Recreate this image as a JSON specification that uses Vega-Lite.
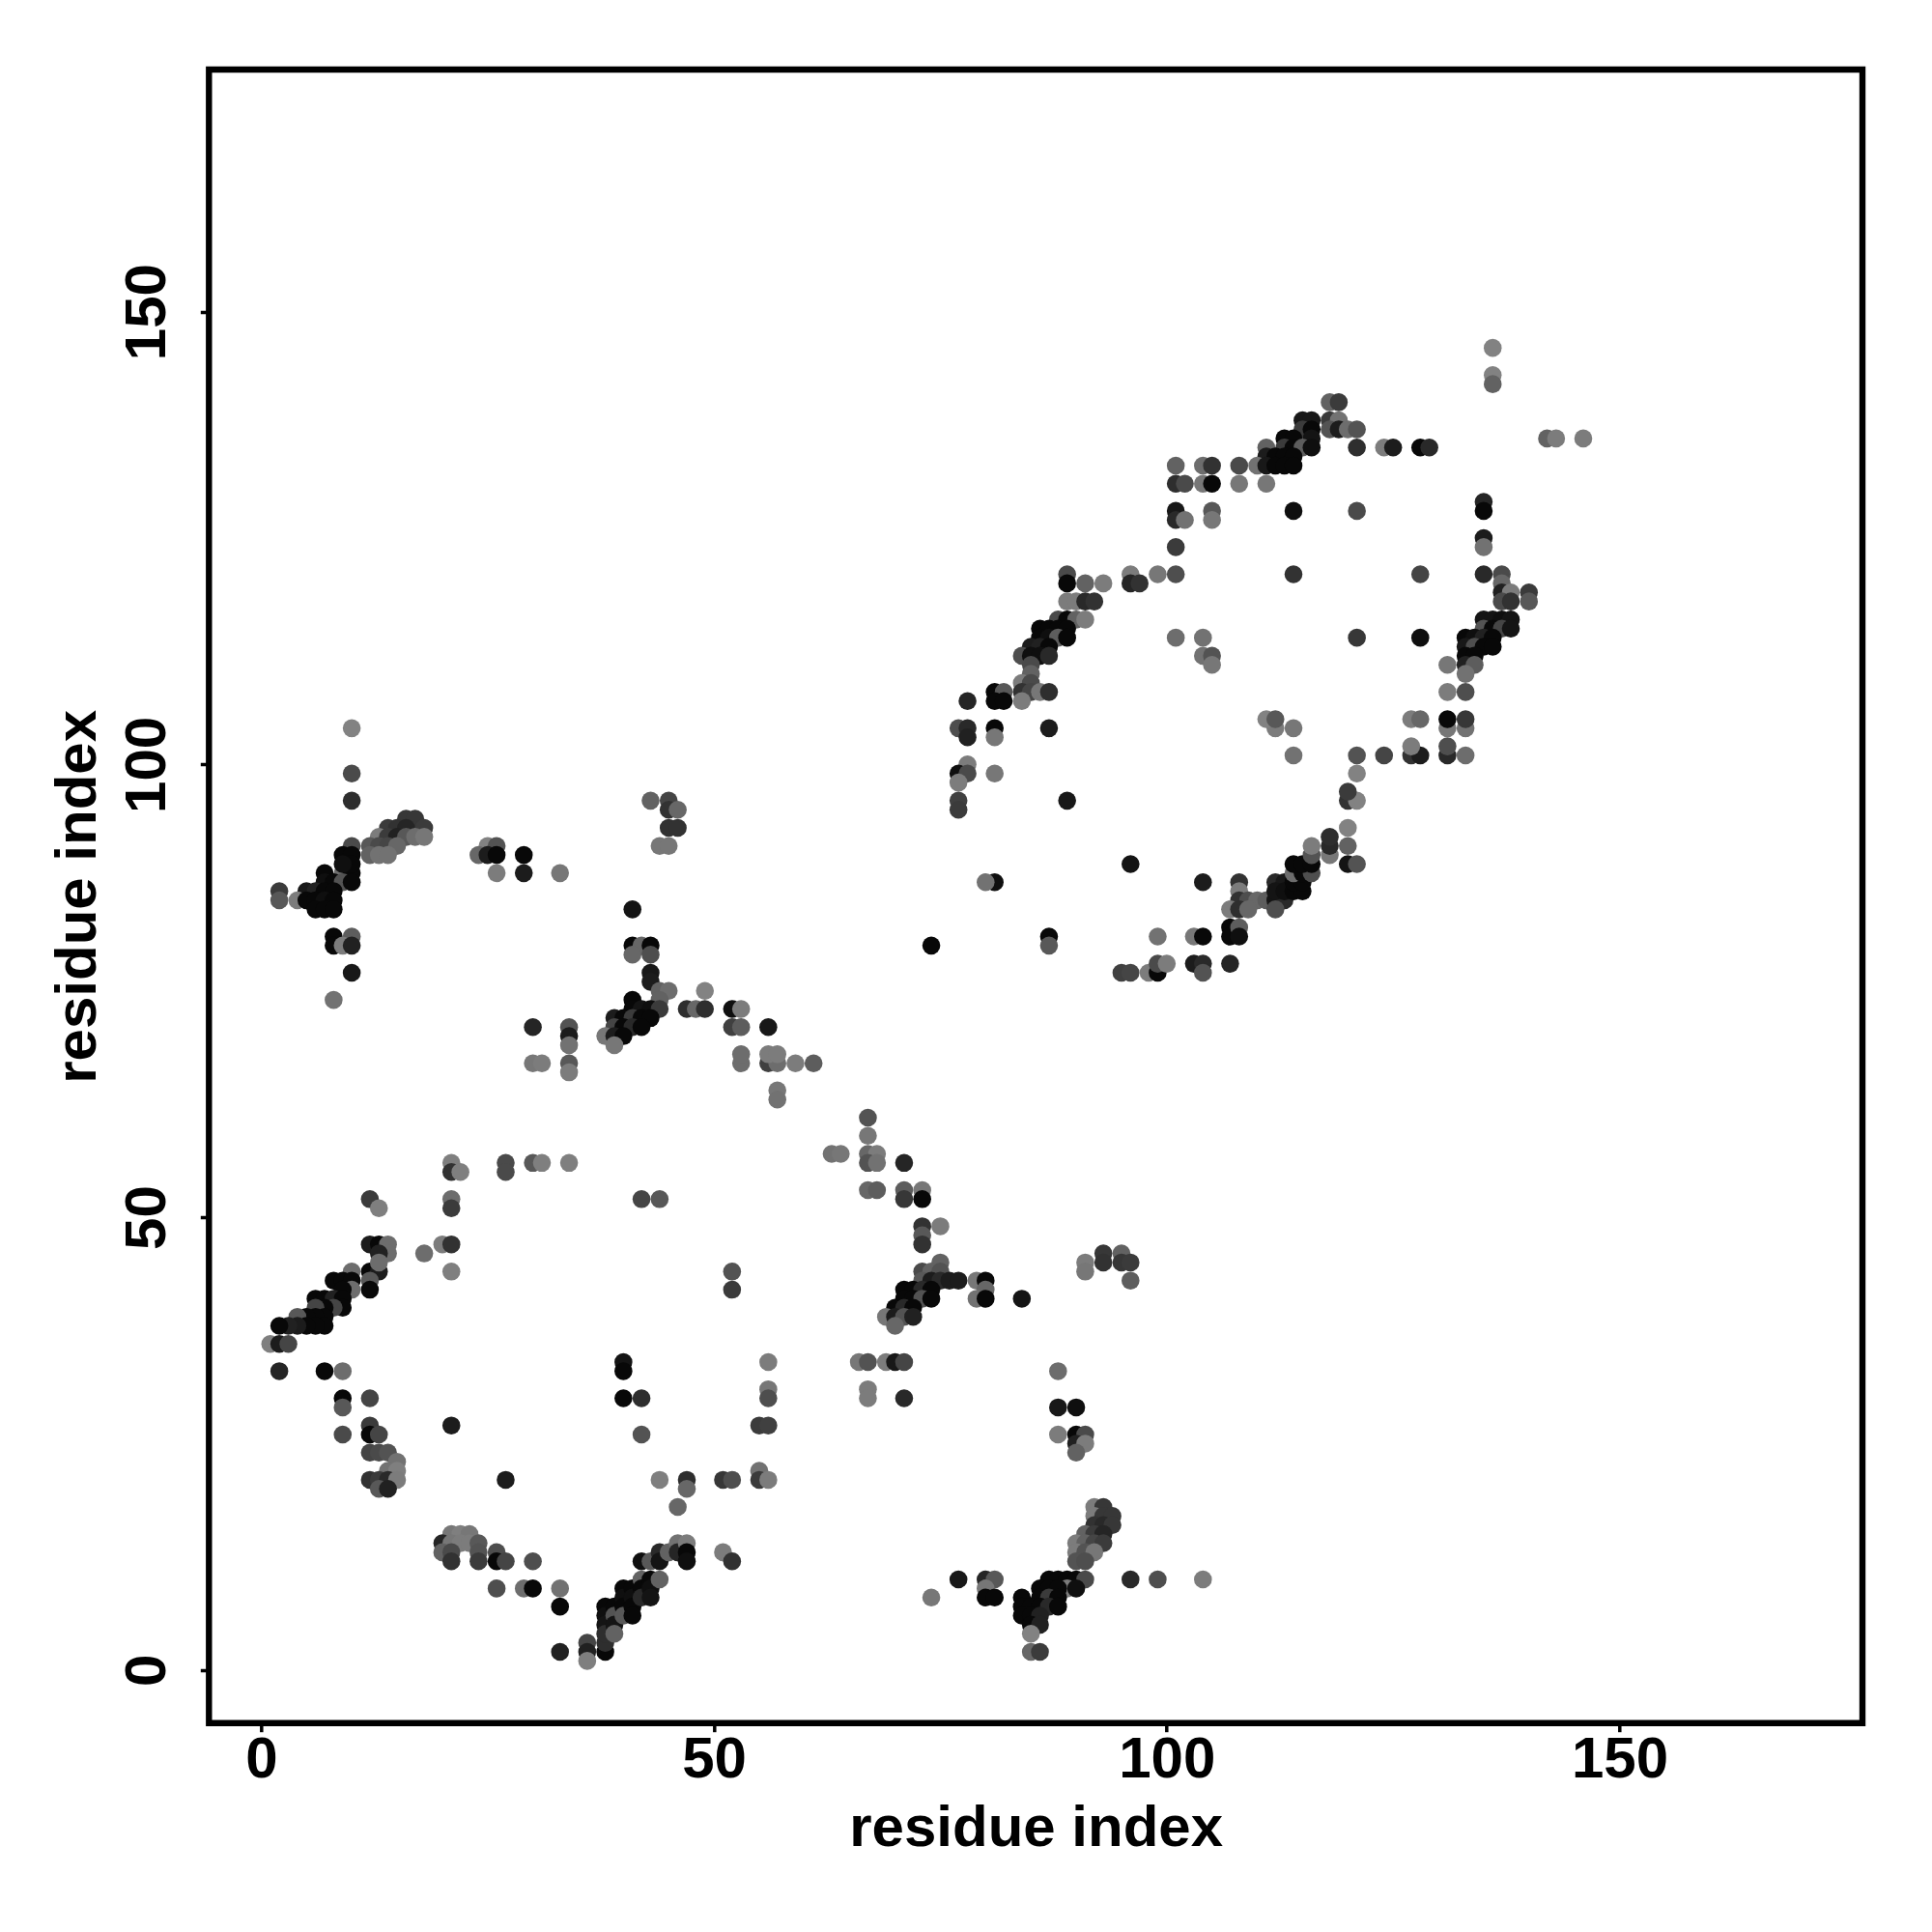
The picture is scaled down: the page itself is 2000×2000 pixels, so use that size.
{"$schema":"https://vega.github.io/schema/vega-lite/v6.json","width":1711.7,"height":1711.7,"autosize":{"type":"none"},"padding":{"left":216.3,"top":72,"right":72,"bottom":216.3},"background":"white","view":{"stroke":"black","strokeWidth":6.4,"fill":"white"},
"data":{"values":[
{"x":21,"y":56,"g":128},{"x":21,"y":55,"g":50},{"x":22,"y":55,"g":128},{"x":27,"y":56,"g":75},{"x":27,"y":55,"g":75},{"x":30,"y":56,"g":90},{"x":31,"y":56,"g":128},{"x":34,"y":56,"g":128},
{"x":12,"y":52,"g":60},{"x":13,"y":51,"g":128},{"x":21,"y":52,"g":110},{"x":21,"y":51,"g":60},{"x":42,"y":52,"g":70},{"x":44,"y":52,"g":90},
{"x":12,"y":47,"g":25},{"x":13,"y":47,"g":5},{"x":14,"y":47,"g":110},{"x":14,"y":46,"g":110},{"x":13,"y":46,"g":30},{"x":18,"y":46,"g":110},{"x":20,"y":47,"g":125},{"x":21,"y":47,"g":50},{"x":21,"y":44,"g":128},
{"x":12,"y":44,"g":5},{"x":13,"y":44,"g":25},{"x":13,"y":45,"g":110},{"x":12,"y":43,"g":90},{"x":12,"y":42,"g":5},{"x":10,"y":44,"g":110},{"x":8,"y":43,"g":5},{"x":9,"y":43,"g":5},{"x":10,"y":43,"g":5},{"x":10,"y":42,"g":110},{"x":9,"y":42,"g":5},
{"x":6,"y":41,"g":5},{"x":7,"y":41,"g":5},{"x":8,"y":41,"g":30},{"x":9,"y":41,"g":5},{"x":9,"y":40,"g":5},{"x":8,"y":40,"g":70},{"x":7,"y":40,"g":5},{"x":6,"y":40,"g":70},{"x":7,"y":39,"g":5},{"x":6,"y":39,"g":5},{"x":5,"y":39,"g":5},{"x":4,"y":39,"g":90},
{"x":7,"y":38,"g":5},{"x":6,"y":38,"g":5},{"x":5,"y":38,"g":5},{"x":4,"y":38,"g":25},{"x":3,"y":38,"g":30},{"x":2,"y":38,"g":5},{"x":1,"y":36,"g":128},{"x":2,"y":36,"g":25},{"x":3,"y":36,"g":70},
{"x":2,"y":33,"g":35},{"x":7,"y":33,"g":5},{"x":9,"y":33,"g":110},{"x":9,"y":30,"g":5},{"x":9,"y":29,"g":90},{"x":12,"y":30,"g":70},{"x":9,"y":26,"g":75},{"x":12,"y":27,"g":60},{"x":12,"y":26,"g":5},{"x":13,"y":26,"g":70},{"x":12,"y":24,"g":70},{"x":13,"y":24,"g":75},{"x":14,"y":24,"g":85},{"x":15,"y":23,"g":115},{"x":14,"y":22,"g":115},{"x":15,"y":22,"g":128},{"x":12,"y":21,"g":50},{"x":13,"y":21,"g":60},{"x":14,"y":21,"g":40},{"x":15,"y":21,"g":125},{"x":13,"y":20,"g":90},{"x":14,"y":20,"g":30},
{"x":21,"y":27,"g":25},{"x":27,"y":21,"g":25},{"x":40,"y":34,"g":15},{"x":40,"y":33,"g":5},{"x":40,"y":30,"g":5},{"x":42,"y":30,"g":45},{"x":42,"y":26,"g":85},{"x":44,"y":21,"g":128},{"x":47,"y":21,"g":45},{"x":47,"y":20,"g":105},{"x":46,"y":18,"g":105},
{"x":21,"y":15,"g":120},{"x":22,"y":15,"g":128},{"x":23,"y":15,"g":120},{"x":20,"y":14,"g":35},{"x":21,"y":14,"g":120},{"x":22,"y":14,"g":125},{"x":23,"y":14,"g":125},{"x":24,"y":14,"g":90},{"x":20,"y":13,"g":100},{"x":21,"y":13,"g":75},{"x":24,"y":13,"g":85},{"x":26,"y":13,"g":80},{"x":21,"y":12,"g":50},{"x":24,"y":12,"g":60},{"x":26,"y":12,"g":5},{"x":27,"y":12,"g":70},{"x":30,"y":12,"g":80},
{"x":26,"y":9,"g":80},{"x":29,"y":9,"g":110},{"x":30,"y":9,"g":5},{"x":33,"y":9,"g":115},{"x":33,"y":7,"g":5},{"x":33,"y":2,"g":30},{"x":36,"y":3,"g":70},{"x":36,"y":2,"g":30},{"x":36,"y":1,"g":128},{"x":38,"y":2,"g":5},{"x":38,"y":3,"g":45},
{"x":38,"y":7,"g":5},{"x":38,"y":6,"g":10},{"x":38,"y":5,"g":15},{"x":38,"y":4,"g":45},{"x":39,"y":7,"g":5},{"x":39,"y":6,"g":85},{"x":39,"y":5,"g":15},{"x":39,"y":4,"g":100},{"x":40,"y":9,"g":5},{"x":40,"y":8,"g":10},{"x":40,"y":7,"g":5},{"x":40,"y":6,"g":90},{"x":41,"y":9,"g":5},{"x":41,"y":8,"g":10},{"x":41,"y":7,"g":5},{"x":41,"y":6,"g":5},{"x":42,"y":12,"g":10},{"x":42,"y":10,"g":100},{"x":42,"y":9,"g":5},{"x":42,"y":8,"g":40},{"x":43,"y":12,"g":90},{"x":43,"y":10,"g":5},{"x":43,"y":9,"g":10},{"x":43,"y":8,"g":15},{"x":44,"y":13,"g":40},{"x":44,"y":12,"g":15},{"x":44,"y":10,"g":100},{"x":45,"y":13,"g":100},{"x":46,"y":14,"g":115},{"x":46,"y":13,"g":35},{"x":47,"y":14,"g":125},{"x":47,"y":13,"g":5},{"x":47,"y":12,"g":10},
{"x":51,"y":21,"g":55},{"x":52,"y":21,"g":80},{"x":55,"y":22,"g":115},{"x":55,"y":21,"g":60},{"x":56,"y":21,"g":125},{"x":51,"y":13,"g":125},{"x":52,"y":12,"g":50},
{"x":52,"y":44,"g":85},{"x":52,"y":42,"g":60},{"x":57,"y":64,"g":120},{"x":57,"y":63,"g":115},{"x":67,"y":61,"g":85},{"x":67,"y":59,"g":120},{"x":63,"y":57,"g":115},{"x":64,"y":57,"g":120},{"x":67,"y":57,"g":105},{"x":68,"y":57,"g":125},{"x":67,"y":56,"g":85},{"x":68,"y":56,"g":115},{"x":71,"y":56,"g":35},{"x":67,"y":53,"g":105},{"x":68,"y":53,"g":95},{"x":71,"y":53,"g":95},{"x":73,"y":53,"g":120},{"x":71,"y":52,"g":55},{"x":73,"y":52,"g":5},{"x":73,"y":49,"g":50},{"x":75,"y":49,"g":125},{"x":73,"y":48,"g":90},{"x":73,"y":47,"g":50},
{"x":75,"y":45,"g":100},{"x":73,"y":44,"g":75},{"x":74,"y":44,"g":100},{"x":75,"y":44,"g":85},{"x":73,"y":43,"g":90},{"x":74,"y":43,"g":25},{"x":75,"y":43,"g":40},{"x":76,"y":43,"g":25},{"x":77,"y":43,"g":25},{"x":79,"y":43,"g":120},{"x":80,"y":43,"g":5},{"x":71,"y":42,"g":5},{"x":72,"y":42,"g":5},{"x":73,"y":42,"g":40},{"x":74,"y":42,"g":5},{"x":80,"y":42,"g":105},{"x":71,"y":41,"g":5},{"x":72,"y":41,"g":5},{"x":73,"y":41,"g":85},{"x":74,"y":41,"g":5},{"x":79,"y":41,"g":115},{"x":80,"y":41,"g":5},{"x":84,"y":41,"g":15},{"x":70,"y":40,"g":5},{"x":71,"y":40,"g":40},{"x":72,"y":40,"g":5},{"x":69,"y":39,"g":120},{"x":70,"y":39,"g":25},{"x":71,"y":39,"g":85},{"x":72,"y":39,"g":30},{"x":70,"y":38,"g":105},
{"x":91,"y":45,"g":125},{"x":91,"y":44,"g":120},{"x":93,"y":46,"g":55},{"x":93,"y":45,"g":50},{"x":95,"y":46,"g":100},{"x":95,"y":45,"g":55},{"x":96,"y":45,"g":60},{"x":96,"y":43,"g":95},
{"x":56,"y":34,"g":125},{"x":66,"y":34,"g":120},{"x":67,"y":34,"g":85},{"x":69,"y":34,"g":125},{"x":70,"y":34,"g":20},{"x":71,"y":34,"g":70},{"x":88,"y":33,"g":110},{"x":56,"y":31,"g":120},{"x":67,"y":31,"g":125},{"x":56,"y":30,"g":80},{"x":67,"y":30,"g":125},{"x":71,"y":30,"g":40},{"x":88,"y":29,"g":20},{"x":90,"y":29,"g":10},{"x":55,"y":27,"g":60},{"x":56,"y":27,"g":65},{"x":88,"y":26,"g":125},{"x":90,"y":26,"g":5},{"x":91,"y":26,"g":75},{"x":90,"y":25,"g":30},{"x":91,"y":25,"g":125},{"x":90,"y":24,"g":100},
{"x":77,"y":10,"g":20},{"x":80,"y":10,"g":35},{"x":81,"y":10,"g":90},{"x":87,"y":10,"g":5},{"x":88,"y":10,"g":5},{"x":89,"y":10,"g":5},{"x":90,"y":10,"g":5},{"x":91,"y":10,"g":75},{"x":96,"y":10,"g":40},{"x":99,"y":10,"g":80},{"x":104,"y":10,"g":125},{"x":80,"y":9,"g":120},{"x":89,"y":9,"g":125},{"x":90,"y":9,"g":10},{"x":86,"y":9,"g":5},{"x":87,"y":9,"g":5},{"x":88,"y":9,"g":5},{"x":74,"y":8,"g":120},{"x":80,"y":8,"g":5},{"x":81,"y":8,"g":5},{"x":84,"y":8,"g":5},{"x":86,"y":8,"g":5},{"x":87,"y":8,"g":60},{"x":88,"y":8,"g":5},{"x":84,"y":7,"g":5},{"x":85,"y":7,"g":5},{"x":86,"y":7,"g":5},{"x":87,"y":7,"g":40},{"x":88,"y":7,"g":5},{"x":84,"y":6,"g":5},{"x":85,"y":6,"g":5},{"x":86,"y":6,"g":30},{"x":85,"y":5,"g":5},{"x":86,"y":5,"g":30},{"x":85,"y":4,"g":130},{"x":85,"y":2,"g":105},{"x":86,"y":2,"g":60},
{"x":92,"y":18,"g":125},{"x":93,"y":18,"g":55},{"x":92,"y":17,"g":125},{"x":93,"y":17,"g":55},{"x":94,"y":17,"g":55},{"x":92,"y":16,"g":50},{"x":93,"y":16,"g":40},{"x":94,"y":16,"g":55},{"x":91,"y":15,"g":100},{"x":92,"y":15,"g":60},{"x":93,"y":15,"g":35},{"x":90,"y":14,"g":125},{"x":91,"y":14,"g":100},{"x":92,"y":14,"g":70},{"x":93,"y":14,"g":60},{"x":90,"y":13,"g":125},{"x":91,"y":13,"g":85},{"x":92,"y":13,"g":120},{"x":90,"y":12,"g":85},{"x":91,"y":12,"g":80},
{"x":10,"y":104,"g":130},{"x":10,"y":99,"g":75},{"x":10,"y":96,"g":45},{"x":10,"y":91,"g":75},{"x":9,"y":90,"g":5},{"x":10,"y":90,"g":5},{"x":7,"y":88,"g":5},{"x":9,"y":88,"g":110},{"x":10,"y":88,"g":5},{"x":10,"y":89,"g":5},{"x":9,"y":89,"g":10},{"x":7,"y":87,"g":10},{"x":8,"y":87,"g":5},{"x":9,"y":87,"g":85},{"x":10,"y":87,"g":5},{"x":2,"y":86,"g":60},{"x":5,"y":86,"g":20},{"x":6,"y":86,"g":30},{"x":7,"y":86,"g":5},{"x":8,"y":86,"g":5},{"x":2,"y":85,"g":90},{"x":4,"y":85,"g":125},{"x":5,"y":85,"g":5},{"x":6,"y":85,"g":5},{"x":7,"y":85,"g":10},{"x":8,"y":85,"g":5},{"x":6,"y":84,"g":5},{"x":7,"y":84,"g":5},{"x":8,"y":84,"g":5},
{"x":8,"y":81,"g":5},{"x":10,"y":81,"g":95},{"x":8,"y":80,"g":5},{"x":9,"y":80,"g":125},{"x":10,"y":80,"g":30},{"x":10,"y":77,"g":20},{"x":8,"y":74,"g":115},
{"x":16,"y":94,"g":55},{"x":17,"y":94,"g":55},{"x":14,"y":93,"g":60},{"x":15,"y":93,"g":50},{"x":16,"y":93,"g":35},{"x":18,"y":93,"g":60},{"x":13,"y":92,"g":125},{"x":14,"y":92,"g":60},{"x":15,"y":92,"g":30},{"x":16,"y":92,"g":90},{"x":17,"y":92,"g":110},{"x":18,"y":92,"g":120},{"x":12,"y":91,"g":90},{"x":13,"y":91,"g":75},{"x":14,"y":91,"g":70},{"x":15,"y":91,"g":105},{"x":12,"y":90,"g":100},{"x":13,"y":90,"g":115},{"x":14,"y":90,"g":115},
{"x":43,"y":96,"g":100},{"x":45,"y":96,"g":70},{"x":45,"y":95,"g":50},{"x":46,"y":95,"g":105},{"x":45,"y":93,"g":50},{"x":46,"y":93,"g":50},{"x":44,"y":91,"g":120},{"x":45,"y":91,"g":120},
{"x":25,"y":91,"g":130},{"x":26,"y":91,"g":85},{"x":24,"y":90,"g":105},{"x":25,"y":90,"g":25},{"x":26,"y":90,"g":5},{"x":29,"y":90,"g":5},{"x":26,"y":88,"g":125},{"x":29,"y":88,"g":25},{"x":33,"y":88,"g":120},
{"x":41,"y":84,"g":15},{"x":41,"y":80,"g":5},{"x":42,"y":80,"g":105},{"x":43,"y":80,"g":5},{"x":41,"y":79,"g":105},{"x":43,"y":79,"g":80},{"x":43,"y":77,"g":20},{"x":43,"y":76,"g":25},{"x":44,"y":75,"g":100},{"x":45,"y":75,"g":110},{"x":49,"y":75,"g":130},{"x":41,"y":74,"g":5},{"x":44,"y":74,"g":100},{"x":41,"y":73,"g":5},{"x":42,"y":73,"g":15},{"x":43,"y":73,"g":10},{"x":44,"y":73,"g":60},{"x":47,"y":73,"g":45},{"x":48,"y":73,"g":105},{"x":49,"y":73,"g":45},{"x":52,"y":73,"g":10},{"x":53,"y":73,"g":125},{"x":39,"y":72,"g":25},{"x":40,"y":72,"g":5},{"x":41,"y":72,"g":60},{"x":42,"y":72,"g":5},{"x":43,"y":72,"g":5},{"x":39,"y":71,"g":70},{"x":40,"y":71,"g":5},{"x":41,"y":71,"g":40},{"x":42,"y":71,"g":5},{"x":30,"y":71,"g":35},{"x":34,"y":71,"g":85},{"x":52,"y":71,"g":65},{"x":53,"y":71,"g":95},{"x":56,"y":71,"g":20},{"x":34,"y":70,"g":25},{"x":38,"y":70,"g":120},{"x":39,"y":70,"g":25},{"x":40,"y":70,"g":5},{"x":34,"y":69,"g":115},{"x":39,"y":69,"g":120},{"x":30,"y":67,"g":120},{"x":31,"y":67,"g":125},{"x":34,"y":67,"g":90},{"x":53,"y":67,"g":110},{"x":56,"y":67,"g":65},{"x":57,"y":67,"g":110},{"x":59,"y":67,"g":125},{"x":61,"y":67,"g":95},{"x":53,"y":68,"g":110},{"x":56,"y":68,"g":125},{"x":57,"y":68,"g":125},{"x":34,"y":66,"g":125},
{"x":74,"y":80,"g":5},{"x":81,"y":87,"g":10},{"x":80,"y":87,"g":115},{"x":87,"y":81,"g":5},{"x":87,"y":80,"g":90},{"x":96,"y":89,"g":15},{"x":99,"y":81,"g":115},{"x":103,"y":81,"g":120},{"x":104,"y":81,"g":5},{"x":107,"y":82,"g":5},{"x":107,"y":81,"g":5},{"x":108,"y":82,"g":95},{"x":108,"y":81,"g":10},{"x":104,"y":87,"g":25},{"x":108,"y":87,"g":50},{"x":108,"y":86,"g":125},{"x":108,"y":85,"g":50},{"x":109,"y":85,"g":80},{"x":110,"y":85,"g":105},{"x":111,"y":85,"g":95},{"x":112,"y":85,"g":15},{"x":113,"y":85,"g":40},{"x":107,"y":84,"g":125},{"x":108,"y":84,"g":45},{"x":109,"y":84,"g":105},{"x":112,"y":84,"g":80},{"x":112,"y":87,"g":40},{"x":113,"y":87,"g":20},{"x":112,"y":86,"g":15},{"x":113,"y":86,"g":10},{"x":114,"y":86,"g":5},{"x":115,"y":86,"g":5},{"x":114,"y":87,"g":5},{"x":115,"y":87,"g":5},{"x":114,"y":88,"g":110},{"x":115,"y":88,"g":5},{"x":116,"y":88,"g":80},{"x":114,"y":89,"g":5},{"x":115,"y":89,"g":5},{"x":116,"y":89,"g":5},{"x":120,"y":89,"g":15},{"x":121,"y":89,"g":85},{"x":116,"y":90,"g":85},{"x":118,"y":90,"g":120},{"x":116,"y":91,"g":125},{"x":118,"y":91,"g":40},{"x":120,"y":91,"g":100},{"x":118,"y":92,"g":45},{"x":120,"y":93,"g":130},{"x":120,"y":96,"g":50},{"x":121,"y":96,"g":130},{"x":120,"y":97,"g":60},{"x":121,"y":99,"g":130},{"x":121,"y":101,"g":85},{"x":124,"y":101,"g":70},{"x":127,"y":101,"g":50},{"x":128,"y":101,"g":25},{"x":131,"y":101,"g":40},{"x":133,"y":101,"g":110},{"x":114,"y":101,"g":115},{"x":127,"y":102,"g":125},{"x":131,"y":102,"g":80},{"x":112,"y":104,"g":125},{"x":114,"y":104,"g":120},{"x":131,"y":104,"g":120},{"x":133,"y":104,"g":115},{"x":111,"y":105,"g":130},{"x":112,"y":105,"g":90},{"x":127,"y":105,"g":125},{"x":128,"y":105,"g":105},{"x":131,"y":105,"g":5},{"x":133,"y":105,"g":55},{"x":131,"y":108,"g":125},{"x":133,"y":108,"g":80},
{"x":95,"y":77,"g":65},{"x":96,"y":77,"g":70},{"x":98,"y":77,"g":125},{"x":99,"y":77,"g":5},{"x":99,"y":78,"g":75},{"x":100,"y":78,"g":125},{"x":103,"y":78,"g":25},{"x":104,"y":78,"g":40},{"x":104,"y":77,"g":85},{"x":107,"y":78,"g":35},
{"x":136,"y":146,"g":130},{"x":136,"y":143,"g":130},{"x":136,"y":142,"g":100},{"x":142,"y":136,"g":100},{"x":143,"y":136,"g":125},{"x":146,"y":136,"g":125},{"x":118,"y":140,"g":100},{"x":119,"y":140,"g":60},{"x":115,"y":138,"g":20},{"x":116,"y":138,"g":20},{"x":118,"y":138,"g":60},{"x":119,"y":138,"g":115},{"x":115,"y":137,"g":60},{"x":116,"y":137,"g":5},{"x":118,"y":137,"g":85},{"x":119,"y":137,"g":25},{"x":120,"y":137,"g":110},{"x":121,"y":137,"g":85},{"x":113,"y":136,"g":5},{"x":114,"y":136,"g":5},{"x":116,"y":136,"g":15},{"x":121,"y":135,"g":45},{"x":124,"y":135,"g":125},{"x":125,"y":135,"g":25},{"x":128,"y":135,"g":5},{"x":129,"y":135,"g":40},{"x":111,"y":135,"g":100},{"x":113,"y":135,"g":60},{"x":114,"y":135,"g":5},{"x":115,"y":135,"g":95},{"x":116,"y":135,"g":10},{"x":111,"y":134,"g":25},{"x":112,"y":134,"g":5},{"x":113,"y":134,"g":5},{"x":114,"y":134,"g":5},{"x":101,"y":133,"g":100},{"x":104,"y":133,"g":110},{"x":105,"y":133,"g":50},{"x":108,"y":133,"g":75},{"x":110,"y":133,"g":115},{"x":111,"y":133,"g":20},{"x":112,"y":133,"g":5},{"x":113,"y":133,"g":5},{"x":114,"y":133,"g":5},{"x":101,"y":131,"g":45},{"x":102,"y":131,"g":75},{"x":104,"y":131,"g":120},{"x":105,"y":131,"g":5},{"x":108,"y":131,"g":120},{"x":111,"y":131,"g":120},{"x":101,"y":128,"g":20},{"x":105,"y":128,"g":90},{"x":114,"y":128,"g":10},{"x":121,"y":128,"g":75},{"x":135,"y":129,"g":35},{"x":135,"y":128,"g":5},{"x":101,"y":127,"g":40},{"x":102,"y":127,"g":115},{"x":105,"y":127,"g":120},{"x":135,"y":125,"g":25},{"x":135,"y":124,"g":115},{"x":101,"y":124,"g":60},{"x":99,"y":121,"g":120},{"x":101,"y":121,"g":80},{"x":114,"y":121,"g":50},{"x":128,"y":121,"g":70},{"x":135,"y":121,"g":40},{"x":137,"y":121,"g":75},{"x":137,"y":120,"g":105},{"x":137,"y":119,"g":30},{"x":138,"y":119,"g":125},{"x":140,"y":119,"g":60},{"x":137,"y":118,"g":75},{"x":138,"y":118,"g":50},{"x":140,"y":118,"g":90},
{"x":135,"y":116,"g":15},{"x":136,"y":116,"g":15},{"x":137,"y":116,"g":10},{"x":138,"y":116,"g":15},{"x":135,"y":115,"g":85},{"x":136,"y":115,"g":5},{"x":137,"y":115,"g":70},{"x":138,"y":115,"g":15},{"x":133,"y":114,"g":5},{"x":134,"y":114,"g":10},{"x":135,"y":114,"g":30},{"x":136,"y":114,"g":5},{"x":121,"y":114,"g":55},{"x":128,"y":114,"g":10},{"x":101,"y":114,"g":110},{"x":104,"y":114,"g":115},{"x":133,"y":113,"g":20},{"x":134,"y":113,"g":80},{"x":135,"y":113,"g":5},{"x":136,"y":113,"g":5},{"x":104,"y":112,"g":115},{"x":105,"y":112,"g":85},{"x":133,"y":112,"g":5},{"x":134,"y":112,"g":5},{"x":105,"y":111,"g":120},{"x":131,"y":111,"g":120},{"x":133,"y":111,"g":30},{"x":134,"y":111,"g":95},{"x":133,"y":110,"g":115},
{"x":89,"y":121,"g":75},{"x":96,"y":121,"g":125},{"x":89,"y":120,"g":5},{"x":91,"y":120,"g":100},{"x":93,"y":120,"g":125},{"x":96,"y":120,"g":35},{"x":97,"y":120,"g":50},
{"x":89,"y":118,"g":125},{"x":90,"y":118,"g":125},{"x":91,"y":118,"g":40},{"x":92,"y":118,"g":50},{"x":88,"y":116,"g":75},{"x":89,"y":116,"g":5},{"x":90,"y":116,"g":100},{"x":91,"y":116,"g":125},{"x":86,"y":115,"g":5},{"x":87,"y":115,"g":5},{"x":88,"y":115,"g":5},{"x":89,"y":115,"g":5},{"x":86,"y":114,"g":5},{"x":87,"y":114,"g":10},{"x":88,"y":114,"g":95},{"x":89,"y":114,"g":5},{"x":85,"y":113,"g":25},{"x":86,"y":113,"g":30},{"x":87,"y":113,"g":5},{"x":84,"y":112,"g":80},{"x":85,"y":112,"g":10},{"x":86,"y":112,"g":10},{"x":87,"y":112,"g":40},{"x":85,"y":111,"g":75},{"x":85,"y":110,"g":100},{"x":84,"y":109,"g":125},{"x":85,"y":109,"g":75},{"x":81,"y":108,"g":5},{"x":82,"y":108,"g":90},{"x":84,"y":108,"g":50},{"x":85,"y":108,"g":70},{"x":86,"y":108,"g":120},{"x":87,"y":108,"g":45},{"x":78,"y":107,"g":35},{"x":81,"y":107,"g":5},{"x":82,"y":107,"g":5},{"x":84,"y":107,"g":125},{"x":77,"y":104,"g":80},{"x":78,"y":104,"g":40},{"x":81,"y":104,"g":5},{"x":87,"y":104,"g":25},{"x":78,"y":103,"g":30},{"x":81,"y":103,"g":120},{"x":78,"y":100,"g":125},{"x":77,"y":99,"g":10},{"x":78,"y":99,"g":75},{"x":81,"y":99,"g":120},{"x":77,"y":98,"g":125},{"x":89,"y":96,"g":20},{"x":77,"y":96,"g":65},{"x":77,"y":95,"g":60}
]},
"mark":{"type":"point","filled":true,"shape":"circle","opacity":1,"size":345},
"encoding":{
"x":{"field":"x","type":"quantitative","scale":{"domain":[-5.77,176.83],"nice":false,"zero":false},"axis":{"title":"residue index","values":[0,50,100,150],"grid":false,"domain":false,"tickSize":9,"tickWidth":3.5,"tickColor":"black","labelFont":"Liberation Sans","labelFontWeight":"bold","labelFontSize":60,"labelColor":"black","labelBaseline":"alphabetic","labelPadding":47,"labelOverlap":false,"labelBound":false,"labelFlush":false,"titleFont":"Liberation Sans","titleFontWeight":"bold","titleFontSize":60,"titleColor":"black","titleBaseline":"alphabetic","titleX":855.85,"titleY":127}},
"y":{"field":"y","type":"quantitative","scale":{"domain":[-5.86,176.74],"nice":false,"zero":false},"axis":{"title":"residue index","values":[0,50,100,150],"grid":false,"domain":false,"tickSize":9,"tickWidth":3.5,"tickColor":"black","labelFont":"Liberation Sans","labelFontWeight":"bold","labelFontSize":60,"labelColor":"black","labelAngle":-90,"labelAlign":"center","labelBaseline":"alphabetic","labelPadding":37,"labelOverlap":false,"labelBound":false,"labelFlush":false,"titleFont":"Liberation Sans","titleFontWeight":"bold","titleFontSize":60,"titleColor":"black","titleAngle":-90,"titleBaseline":"alphabetic","titleX":-118.3,"titleY":855.85}},
"color":{"field":"g","type":"quantitative","legend":null,"scale":{"domain":[0,136],"range":["#000000","#888888"]}},
"order":[{"field":"x","type":"quantitative"},{"field":"y","type":"quantitative"}]
}}
